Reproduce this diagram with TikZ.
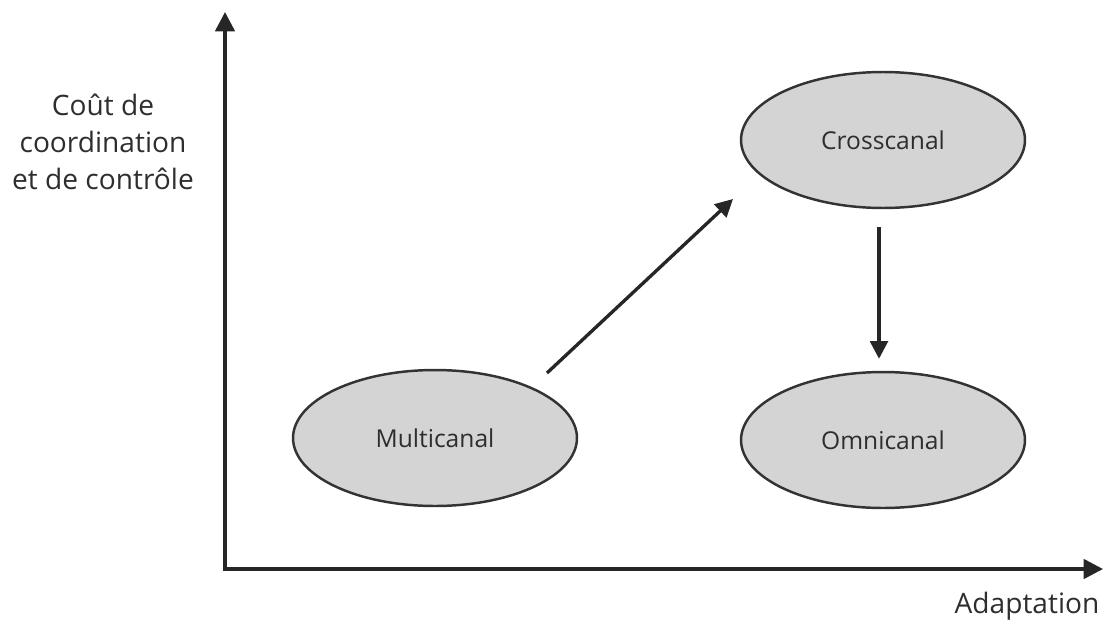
\documentclass[tikz,border=0pt]{standalone}
\usepackage{fontspec}
\setmainfont{Open Sans}
\usetikzlibrary{arrows.meta,shapes.geometric}

\definecolor{canalgris}{HTML}{D4D4D4}
\definecolor{traitgris}{HTML}{333333}
\definecolor{textegris}{HTML}{2E2E2E}

\tikzset{
  canal/.style={ellipse,draw=traitgris,fill=canalgris,line width=1.4pt,
    minimum width=5.68cm,minimum height=2.72cm,inner sep=0pt,
    text=textegris,font=\fontsize{14}{17}\selectfont},
  axe/.style={line width=2pt,draw=black!85,-{Triangle[length=11pt,width=11pt]}},
  fleche/.style={line width=1.9pt,draw=black!85,-{Triangle[length=10pt,width=10pt]}},
  titre/.style={text=textegris,font=\fontsize{16}{21}\selectfont,align=center}
}

\begin{document}
\begin{tikzpicture}[x=0.02cm,y=-0.02cm]
    \useasboundingbox (0,0) rectangle (1104,625);

    % axes
    \coordinate (o) at (225,569);
    \coordinate (ytop) at (225,12);
    \coordinate (xend) at (1103,569);
    \draw[axe] (o) -- (ytop);
    \draw[axe] ([xshift=-1pt]o) -- (xend);
    \node[titre] (cout) at (103,142) {Coût de\\coordination\\et de contrôle};
    \node[titre] (adapt) at (1027,606) {Adaptation};

    % canaux
    \node[canal] (cross) at (883,140) {Crosscanal};
    \node[canal] (omni) at (883,440) {Omnicanal};
    \node[canal] (multi) at (435,438) {Multicanal};

    % passages
    \coordinate (d1) at (547,373);
    \coordinate (d2) at (733,199);
    \draw[fleche] (d1) -- (d2);
    \draw[fleche] ([xshift=-4*0.02cm,yshift=-18*0.02cm]cross.south)
        -- ([xshift=-4*0.02cm,yshift=12*0.02cm]omni.north);
\end{tikzpicture}
\end{document}
